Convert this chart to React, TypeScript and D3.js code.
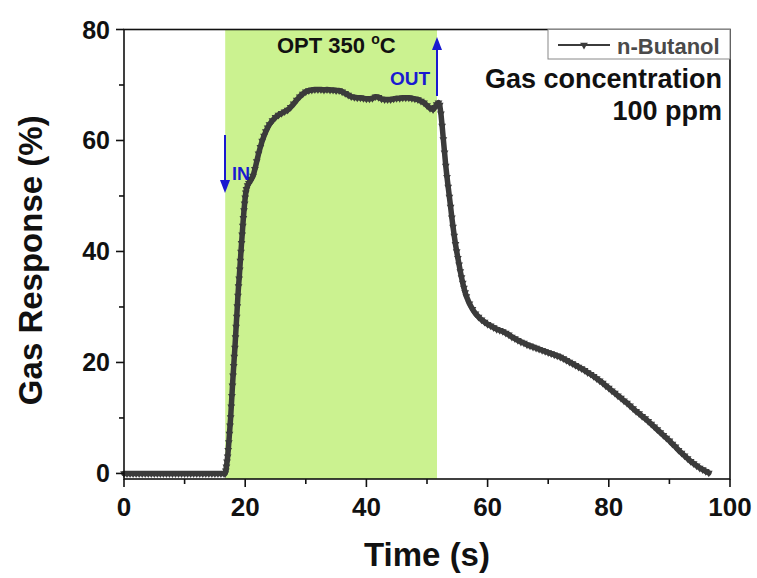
import React from "react";
import * as d3 from "d3";

const W = 757;
const H = 578;

// Gas response data (time s, response %)
const baseline: [number, number][] = [
  [0, 0], [0.5, 0], [1, 0], [1.5, 0], [2, 0], [2.5, 0], [3, 0], [3.5, 0], [4, 0], [4.5, 0],
  [5, 0], [5.5, 0], [6, 0], [6.5, 0], [7, 0], [7.5, 0], [8, 0], [8.5, 0], [9, 0], [9.5, 0],
  [10, 0], [10.5, 0], [11, 0], [11.5, 0], [12, 0], [12.5, 0], [13, 0], [13.5, 0], [14, 0],
  [14.5, 0], [15, 0], [15.5, 0], [16, 0], [16.5, 0], [16.7, 0],
];
const rise: [number, number][] = [
  [16.8, 0.5], [16.9, 1.2], [17.0, 2.1], [17.1, 3.0], [17.2, 4.2], [17.3, 5.6], [17.4, 7.1],
  [17.5, 8.6], [17.6, 10.1], [17.7, 12.0], [17.8, 13.9], [17.9, 15.8], [18.0, 17.6], [18.1, 19.3],
  [18.2, 21.0], [18.3, 22.6], [18.4, 24.5], [18.5, 26.4], [18.6, 28.2], [18.7, 30.1], [18.8, 32.0],
  [18.9, 33.7], [19.0, 35.1], [19.1, 36.7], [19.2, 38.3], [19.3, 39.9], [19.4, 41.5], [19.5, 43.0],
  [19.6, 44.6], [19.7, 46.0], [19.8, 47.4], [19.9, 48.6], [20.0, 49.7], [20.1, 50.6], [20.2, 51.2],
  [20.4, 51.9], [20.6, 52.3], [20.8, 52.6], [21.0, 53.0], [21.3, 53.6], [21.6, 54.8], [21.9, 56.2],
  [22.2, 57.6], [22.5, 58.8], [22.8, 59.9], [23.1, 60.8], [23.4, 61.6], [23.7, 62.3], [24.0, 62.9],
];
const plateau: [number, number][] = [
  [24.5, 63.6], [25.0, 64.2], [25.5, 64.6], [26.0, 64.9], [26.5, 65.2], [27.0, 65.5], [27.5, 66.0],
  [28.0, 66.6], [28.5, 67.3], [29.0, 67.9], [29.5, 68.4], [30.0, 68.8], [30.5, 69.0], [31.0, 69.1],
  [31.5, 69.2], [32.0, 69.2], [32.5, 69.2], [33.0, 69.1], [33.5, 69.2], [34.0, 69.1], [34.5, 69.1],
  [35.0, 69.0], [35.5, 69.0], [36.0, 68.8], [36.5, 68.5], [37.0, 68.2], [37.5, 67.9], [38.0, 67.8],
  [38.5, 67.7], [39.0, 67.7], [39.5, 67.6], [40.0, 67.5], [40.5, 67.5], [41.0, 67.6], [41.5, 67.9],
  [42.0, 67.8], [42.5, 67.5], [43.0, 67.4], [43.5, 67.4], [44.0, 67.4], [44.5, 67.5], [45.0, 67.6],
  [45.5, 67.6], [46.0, 67.7], [46.5, 67.7], [47.0, 67.7], [47.5, 67.6], [48.0, 67.5], [48.5, 67.4],
  [49.0, 67.1], [49.5, 66.8], [50.0, 66.3], [50.5, 65.8], [51.0, 65.6], [51.3, 66.0], [51.6, 66.5],
  [51.9, 66.8], [52.1, 66.4],
];
const fall: [number, number][] = [
  [52.3, 64.8], [52.5, 62.6], [52.7, 60.2], [52.9, 57.8], [53.1, 55.4], [53.3, 53.4], [53.5, 51.6],
  [53.7, 49.8], [53.9, 48.0], [54.1, 46.1], [54.3, 44.4], [54.5, 42.8], [54.7, 41.3], [54.9, 40.0],
  [55.1, 38.8], [55.3, 37.6], [55.5, 36.4], [55.7, 35.3], [55.9, 34.3], [56.1, 33.4], [56.3, 32.6],
  [56.5, 31.9],
];
const recovery: [number, number][] = [
  [57.0, 30.6], [57.5, 29.6], [58.0, 28.8], [58.5, 28.2], [59.0, 27.7], [59.5, 27.3], [60.0, 26.9],
  [60.5, 26.6], [61.0, 26.3], [61.5, 26.0], [62.0, 25.8], [62.5, 25.6], [63.0, 25.3], [63.5, 25.0],
  [64.0, 24.6], [64.5, 24.3], [65.0, 24.0], [65.5, 23.7], [66.0, 23.5], [66.5, 23.2], [67.0, 23.0],
  [67.5, 22.8], [68.0, 22.6], [68.5, 22.4], [69.0, 22.2], [69.5, 22.0], [70.0, 21.8], [70.5, 21.6],
  [71.0, 21.4], [71.5, 21.2], [72.0, 21.0], [72.5, 20.7], [73.0, 20.4], [73.5, 20.1], [74.0, 19.8],
  [74.5, 19.5], [75.0, 19.2], [75.5, 18.9], [76.0, 18.6], [76.5, 18.2], [77.0, 17.9], [77.5, 17.5],
  [78.0, 17.1], [78.5, 16.7], [79.0, 16.3], [79.5, 15.8], [80.0, 15.4], [80.5, 14.9], [81.0, 14.5],
  [81.5, 14.0], [82.0, 13.6], [82.5, 13.1], [83.0, 12.7], [83.5, 12.2], [84.0, 11.7], [84.5, 11.2],
  [85.0, 10.8], [85.5, 10.3], [86.0, 9.9], [86.5, 9.4], [87.0, 8.9], [87.5, 8.4], [88.0, 7.9],
  [88.5, 7.4], [89.0, 6.9], [89.5, 6.4], [90.0, 5.9], [90.5, 5.3], [91.0, 4.8], [91.5, 4.2],
  [92.0, 3.7], [92.5, 3.2], [93.0, 2.7], [93.5, 2.2], [94.0, 1.8], [94.5, 1.4], [95.0, 1.0],
  [95.5, 0.7], [96.0, 0.4], [96.5, 0.1],
];

const xTicks = [0, 20, 40, 60, 80, 100];
const xMinorTicks = [10, 30, 50, 70, 90];
const yTicks = [0, 20, 40, 60, 80];
const yMinorTicks = [10, 30, 50, 70];
const gasWindow = [16.7, 51.65];

const FONT = "'Liberation Sans', Arial, sans-serif";
const CURVE = "#3b3b3b";
const BLUE = "#1a1ad0";

export default function App() {
  const data = [...baseline, ...rise, ...plateau, ...fall, ...recovery];
  const x = d3.scaleLinear().domain([0, 100]).range([124, 730]);
  const y = d3.scaleLinear().domain([-1, 80]).range([479, 29.5]);
  const line = d3
    .line<[number, number]>()
    .x((d) => x(d[0]))
    .y((d) => y(d[1]));
  const tri = d3.symbol().type(d3.symbolTriangle).size(26)() as string;

  const left = x(0);
  const right = x(100);
  const top = y(80);
  const bottom = y(-1);

  return (
    <svg width={W} height={H} style={{ display: "block", position: "absolute", left: 0, top: 0 }}>
      <rect x={0} y={0} width={W} height={H} fill="#fff" />
      {/* gas exposure window */}
      <rect
        x={x(gasWindow[0])}
        y={top}
        width={x(gasWindow[1]) - x(gasWindow[0])}
        height={bottom - top}
        fill="#cbf290"
      />
      {/* curve */}
      <path
        d={line(data) || ""}
        fill="none"
        stroke={CURVE}
        strokeWidth={5.5}
        strokeLinejoin="round"
        strokeLinecap="round"
      />
      {data.map((d, i) => (
        <path
          key={i}
          d={tri}
          transform={`translate(${x(d[0])},${y(d[1])}) rotate(180)`}
          fill={CURVE}
        />
      ))}
      {/* frame */}
      <rect x={left} y={top} width={right - left} height={bottom - top} fill="none" stroke="#111" strokeWidth={1.6} />
      {/* x ticks */}
      {xTicks.map((t) => (
        <g key={"xt" + t}>
          <line x1={x(t)} x2={x(t)} y1={bottom} y2={bottom + 8} stroke="#111" strokeWidth={1.6} />
          <text x={x(t)} y={bottom + 37} textAnchor="middle" fontFamily={FONT} fontWeight="bold" fontSize={26} fill="#111">
            {t}
          </text>
        </g>
      ))}
      {xMinorTicks.map((t) => (
        <line key={"xm" + t} x1={x(t)} x2={x(t)} y1={bottom} y2={bottom + 5} stroke="#111" strokeWidth={1.6} />
      ))}
      {/* y ticks */}
      {yTicks.map((t) => (
        <g key={"yt" + t}>
          <line x1={left - 8} x2={left} y1={y(t)} y2={y(t)} stroke="#111" strokeWidth={1.6} />
          <text x={left - 14} y={y(t) + 9} textAnchor="end" fontFamily={FONT} fontWeight="bold" fontSize={25} fill="#111">
            {t}
          </text>
        </g>
      ))}
      {yMinorTicks.map((t) => (
        <line key={"ym" + t} x1={left - 5} x2={left} y1={y(t)} y2={y(t)} stroke="#111" strokeWidth={1.6} />
      ))}
      {/* axis titles */}
      <text x={427} y={566} textAnchor="middle" fontFamily={FONT} fontWeight="bold" fontSize={33} fill="#111">
        Time (s)
      </text>
      <text
        transform={`translate(42,${(top + bottom) / 2 + 6}) rotate(-90)`}
        textAnchor="middle"
        fontFamily={FONT}
        fontWeight="bold"
        fontSize={33}
        fill="#111"
      >
        Gas Response (%)
      </text>
      {/* legend */}
      <rect x={548} y={top} width={right - 548} height={59 - top} fill="#fff" stroke="#888" strokeWidth={1} />
      <line x1={558} x2={610} y1={45} y2={45} stroke={CURVE} strokeWidth={2} />
      <path d={tri} transform="translate(584,45) rotate(180)" fill={CURVE} />
      <text x={617} y={54} fontFamily={FONT} fontWeight="bold" fontSize={22} fill="#4a4a4a">
        n-Butanol
      </text>
      {/* annotation text */}
      <text x={722} y={88} textAnchor="end" fontFamily={FONT} fontWeight="bold" fontSize={27} fill="#111">
        Gas concentration
      </text>
      <text x={722} y={120} textAnchor="end" fontFamily={FONT} fontWeight="bold" fontSize={27} fill="#111">
        100 ppm
      </text>
      <text x={277} y={53} fontFamily={FONT} fontWeight="bold" fontSize={22} fill="#111">
        OPT 350 <tspan fontSize={14} dy={-9}>o</tspan>
        <tspan dy={9}>C</tspan>
      </text>
      <text x={390} y={85} fontFamily={FONT} fontWeight="bold" fontSize={19} fill={BLUE}>
        OUT
      </text>
      <text x={232} y={180} fontFamily={FONT} fontWeight="bold" fontSize={18} fill={BLUE}>
        IN
      </text>
      {/* arrows */}
      <line x1={225} x2={225} y1={135} y2={182} stroke={BLUE} strokeWidth={2} />
      <path d="M220,180 L230,180 L225,193 Z" fill={BLUE} />
      <line x1={437} x2={437} y1={96} y2={48} stroke={BLUE} strokeWidth={2} />
      <path d="M432,50 L442,50 L437,37 Z" fill={BLUE} />
    </svg>
  );
}
